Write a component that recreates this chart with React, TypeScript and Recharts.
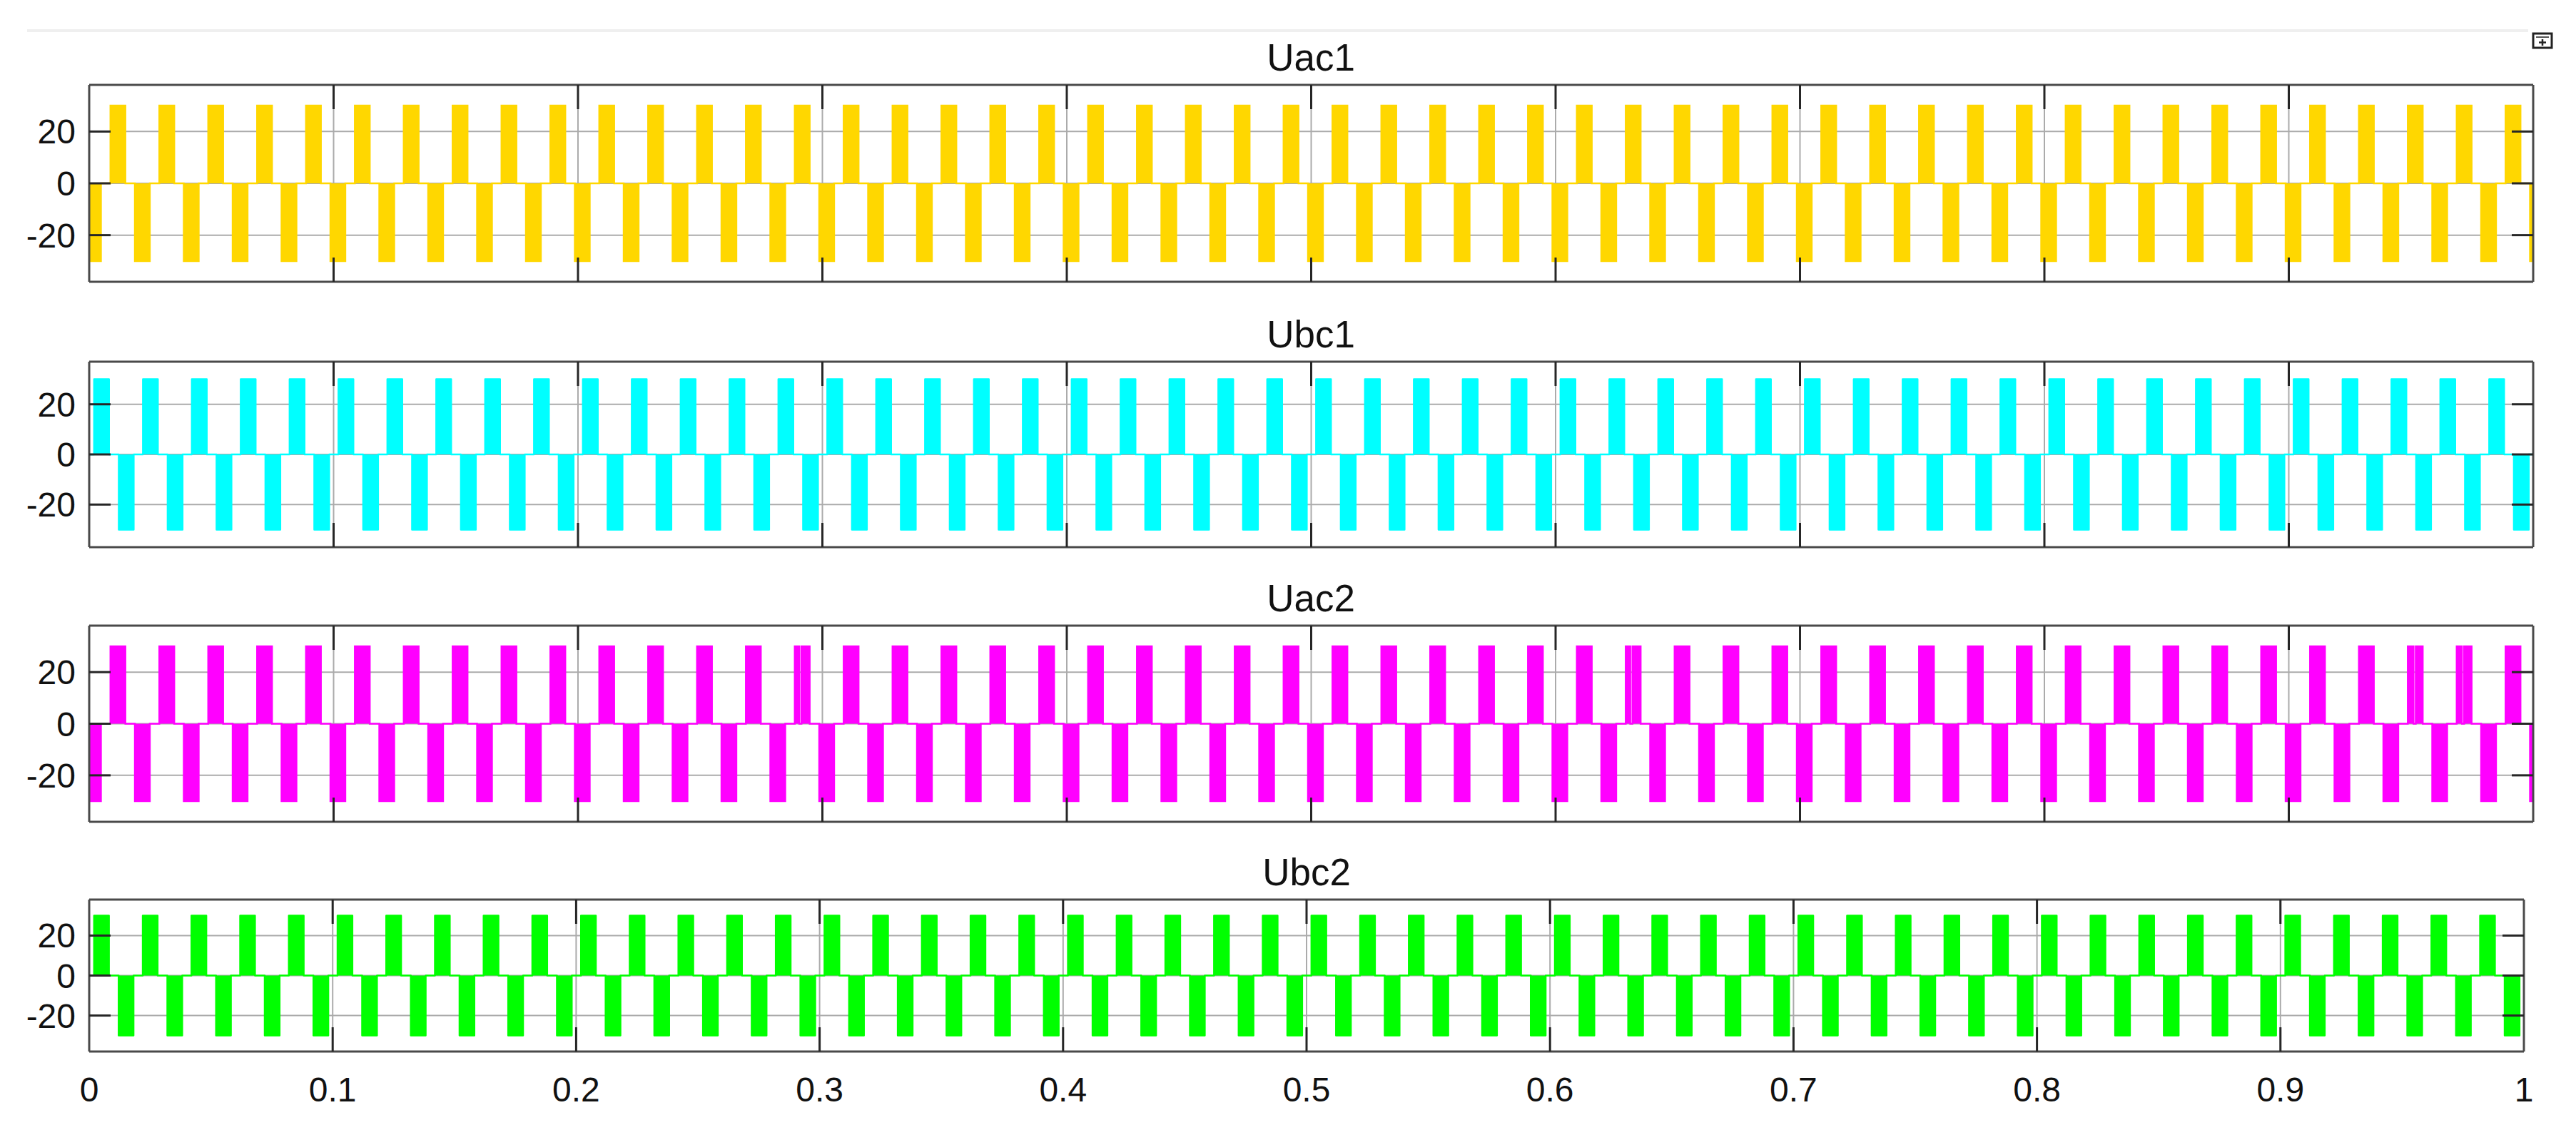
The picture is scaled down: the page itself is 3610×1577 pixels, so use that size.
import React from "react";
import { AreaChart, Area, XAxis, YAxis, CartesianGrid } from "recharts";

// time axis (s) and voltage axis (V)
const xTicks = [0, 0.1, 0.2, 0.3, 0.4, 0.5, 0.6, 0.7, 0.8, 0.9, 1];
const yTicks = [-20, 0, 20];
const amplitude = 30;
const pulseWidth = 0.0061;

// pulse start times (s)
const uac1Pos = [
  0.0087, 0.0287, 0.0487, 0.0687, 0.0887,
  0.1087, 0.1287, 0.1487, 0.1687, 0.1887,
  0.2087, 0.2287, 0.2487, 0.2687, 0.2887,
  0.3087, 0.3287, 0.3487, 0.3687, 0.3887,
  0.4087, 0.4287, 0.4487, 0.4687, 0.4887,
  0.5087, 0.5287, 0.5487, 0.5687, 0.5887,
  0.6087, 0.6287, 0.6487, 0.6687, 0.6887,
  0.7087, 0.7287, 0.7487, 0.7687, 0.7887,
  0.8087, 0.8287, 0.8487, 0.8687, 0.8887,
  0.9087, 0.9287, 0.9487, 0.9687, 0.9887,
];
const uac1Neg = [
  -0.0013, 0.0187, 0.0387, 0.0587, 0.0787,
  0.0987, 0.1187, 0.1387, 0.1587, 0.1787,
  0.1987, 0.2187, 0.2387, 0.2587, 0.2787,
  0.2987, 0.3187, 0.3387, 0.3587, 0.3787,
  0.3987, 0.4187, 0.4387, 0.4587, 0.4787,
  0.4987, 0.5187, 0.5387, 0.5587, 0.5787,
  0.5987, 0.6187, 0.6387, 0.6587, 0.6787,
  0.6987, 0.7187, 0.7387, 0.7587, 0.7787,
  0.7987, 0.8187, 0.8387, 0.8587, 0.8787,
  0.8987, 0.9187, 0.9387, 0.9587, 0.9787,
  0.9987,
];

const ubc1Pos = [
  0.002, 0.022, 0.042, 0.062, 0.082,
  0.102, 0.122, 0.142, 0.162, 0.182,
  0.202, 0.222, 0.242, 0.262, 0.282,
  0.302, 0.322, 0.342, 0.362, 0.382,
  0.402, 0.422, 0.442, 0.462, 0.482,
  0.502, 0.522, 0.542, 0.562, 0.582,
  0.602, 0.622, 0.642, 0.662, 0.682,
  0.702, 0.722, 0.742, 0.762, 0.782,
  0.802, 0.822, 0.842, 0.862, 0.882,
  0.902, 0.922, 0.942, 0.962, 0.982,
];
const ubc1Neg = [
  0.0121, 0.0321, 0.0521, 0.0721, 0.0921,
  0.1121, 0.1321, 0.1521, 0.1721, 0.1921,
  0.2121, 0.2321, 0.2521, 0.2721, 0.2921,
  0.3121, 0.3321, 0.3521, 0.3721, 0.3921,
  0.4121, 0.4321, 0.4521, 0.4721, 0.4921,
  0.5121, 0.5321, 0.5521, 0.5721, 0.5921,
  0.6121, 0.6321, 0.6521, 0.6721, 0.6921,
  0.7121, 0.7321, 0.7521, 0.7721, 0.7921,
  0.8121, 0.8321, 0.8521, 0.8721, 0.8921,
  0.9121, 0.9321, 0.9521, 0.9721, 0.9921,
];

const uac2Pos = [
  0.0087, 0.0287, 0.0487, 0.0687, 0.0887,
  0.1087, 0.1287, 0.1487, 0.1687, 0.1887,
  0.2087, 0.2287, 0.2487, 0.2687, 0.2887,
  0.3087, 0.3287, 0.3487, 0.3687, 0.3887,
  0.4087, 0.4287, 0.4487, 0.4687, 0.4887,
  0.5087, 0.5287, 0.5487, 0.5687, 0.5887,
  0.6087, 0.6287, 0.6487, 0.6687, 0.6887,
  0.7087, 0.7287, 0.7487, 0.7687, 0.7887,
  0.8087, 0.8287, 0.8487, 0.8687, 0.8887,
  0.9087, 0.9287, 0.9487, 0.9687, 0.9887,
];
const uac2Neg = [
  -0.0013, 0.0187, 0.0387, 0.0587, 0.0787,
  0.0987, 0.1187, 0.1387, 0.1587, 0.1787,
  0.1987, 0.2187, 0.2387, 0.2587, 0.2787,
  0.2987, 0.3187, 0.3387, 0.3587, 0.3787,
  0.3987, 0.4187, 0.4387, 0.4587, 0.4787,
  0.4987, 0.5187, 0.5387, 0.5587, 0.5787,
  0.5987, 0.6187, 0.6387, 0.6587, 0.6787,
  0.6987, 0.7187, 0.7387, 0.7587, 0.7787,
  0.7987, 0.8187, 0.8387, 0.8587, 0.8787,
  0.8987, 0.9187, 0.9387, 0.9587, 0.9787,
  0.9987,
];
// short dropouts seen inside a few Uac2 pulses
const uac2Notches = [0.291, 0.631, 0.9515, 0.9713];

const ubc2Pos = [
  0.002, 0.022, 0.042, 0.062, 0.082,
  0.102, 0.122, 0.142, 0.162, 0.182,
  0.202, 0.222, 0.242, 0.262, 0.282,
  0.302, 0.322, 0.342, 0.362, 0.382,
  0.402, 0.422, 0.442, 0.462, 0.482,
  0.502, 0.522, 0.542, 0.562, 0.582,
  0.602, 0.622, 0.642, 0.662, 0.682,
  0.702, 0.722, 0.742, 0.762, 0.782,
  0.802, 0.822, 0.842, 0.862, 0.882,
  0.902, 0.922, 0.942, 0.962, 0.982,
];
const ubc2Neg = [
  0.0121, 0.0321, 0.0521, 0.0721, 0.0921,
  0.1121, 0.1321, 0.1521, 0.1721, 0.1921,
  0.2121, 0.2321, 0.2521, 0.2721, 0.2921,
  0.3121, 0.3321, 0.3521, 0.3721, 0.3921,
  0.4121, 0.4321, 0.4521, 0.4721, 0.4921,
  0.5121, 0.5321, 0.5521, 0.5721, 0.5921,
  0.6121, 0.6321, 0.6521, 0.6721, 0.6921,
  0.7121, 0.7321, 0.7521, 0.7721, 0.7921,
  0.8121, 0.8321, 0.8521, 0.8721, 0.8921,
  0.9121, 0.9321, 0.9521, 0.9721, 0.9921,
];

type Pt = { t: number; v: number };

// turn pulse start lists into a step trace for the Area
function buildWave(pos: number[], neg: number[], notches: number[] = []): Pt[] {
  const gap = 0.0009;
  const pulses: { s: number; e: number; v: number }[] = [];
  const add = (s: number, v: number) => {
    const e = s + pulseWidth;
    const cut = notches.find((n) => n > s && n < e);
    if (cut === undefined) {
      pulses.push({ s, e, v });
    } else {
      pulses.push({ s, e: cut - gap / 2, v });
      pulses.push({ s: cut + gap / 2, e, v });
    }
  };
  pos.forEach((s) => add(s, amplitude));
  neg.forEach((s) => add(s, -amplitude));
  pulses.sort((a, b) => a.s - b.s);

  const pts: Pt[] = [];
  if (pulses[0].s > 0) pts.push({ t: 0, v: 0 });
  pulses.forEach(({ s, e, v }) => {
    pts.push({ t: s, v: 0 }, { t: s, v }, { t: e, v }, { t: e, v: 0 });
  });
  if (pulses[pulses.length - 1].e < 1) pts.push({ t: 1, v: 0 });
  return pts;
}

const W = 3610;
const H = 1577;
const FONT = "'Liberation Sans', Arial, Helvetica, sans-serif";
const BOX = "#4a4a4a";
const TICK = "#262626";
const TICK_X = 34;
const TICK_Y = 30;

// end ticks sit on the box edges, so only inner ones get a mark
const isInner = (v: number) => v > 0 && v < 1;

// inward tick marks (matlab style), labels drawn outside
const BottomTick = ({ x, y, payload, label }: any) => (
  <g>
    {isInner(payload.value) && (
      <line x1={x} y1={y} x2={x} y2={y - TICK_X} stroke={TICK} strokeWidth={3} />
    )}
    {label && (
      <text x={x} y={y + 70} textAnchor="middle" fontSize={48} fill="#111" fontFamily={FONT}>
        {payload.value}
      </text>
    )}
  </g>
);

const TopTick = ({ x, y, payload }: any) =>
  isInner(payload.value) ? (
    <line x1={x} y1={y} x2={x} y2={y + TICK_X} stroke={TICK} strokeWidth={3} />
  ) : (
    <g />
  );

const LeftTick = ({ x, y, payload }: any) => (
  <g>
    <line x1={x} y1={y} x2={x + TICK_Y} y2={y} stroke={TICK} strokeWidth={3} />
    <text x={x - 19} y={y + 17} textAnchor="end" fontSize={48} fill="#111" fontFamily={FONT}>
      {payload.value}
    </text>
  </g>
);

const RightTick = ({ x, y }: any) => (
  <line x1={x} y1={y} x2={x - TICK_Y} y2={y} stroke={TICK} strokeWidth={3} />
);

interface PanelProps {
  data: Pt[];
  color: string;
  top: number;
  bottom: number;
  right: number;
  domain: [number, number];
  showLabels?: boolean;
  round?: boolean;
}

const Panel = ({ data, color, top, bottom, right, domain, showLabels = false, round = false }: PanelProps) => {
  const padTop = 10;
  const axisH = showLabels ? 110 : 2;
  const height = padTop + (bottom - top) + axisH;
  const axisLine = { stroke: BOX, strokeWidth: 3 };
  return (
    <div style={{ position: "absolute", left: 0, top: top - padTop }}>
      <AreaChart
        width={W}
        height={height}
        data={data}
        margin={{ top: padTop - 2, right: W - right - 2, bottom: 0, left: 0 }}
      >
        <CartesianGrid xAxisId="b" yAxisId="l" stroke="#ababab" strokeWidth={2} />
        <Area
          xAxisId="b"
          yAxisId="l"
          dataKey="v"
          type="linear"
          baseValue={0}
          stroke={color}
          fill={color}
          fillOpacity={1}
          strokeWidth={2.5}
          strokeLinejoin={round ? "round" : "miter"}
          dot={false}
          activeDot={false}
          isAnimationActive={false}
        />
        <XAxis
          xAxisId="b"
          dataKey="t"
          type="number"
          domain={[0, 1]}
          ticks={xTicks}
          interval={0}
          allowDataOverflow
          height={axisH}
          tickSize={0}
          tickMargin={0}
          tickLine={false}
          tick={(p: any) => <BottomTick {...p} label={showLabels} />}
          axisLine={axisLine}
        />
        <XAxis
          xAxisId="t"
          dataKey="t"
          orientation="top"
          type="number"
          domain={[0, 1]}
          ticks={xTicks}
          interval={0}
          allowDataOverflow
          height={2}
          tickSize={0}
          tickMargin={0}
          tickLine={false}
          tick={TopTick}
          axisLine={axisLine}
        />
        <YAxis
          yAxisId="l"
          type="number"
          domain={domain}
          ticks={yTicks}
          interval={0}
          allowDataOverflow
          width={125}
          tickSize={0}
          tickMargin={0}
          tickLine={false}
          tick={LeftTick}
          axisLine={axisLine}
        />
        <YAxis
          yAxisId="r"
          orientation="right"
          type="number"
          domain={domain}
          ticks={yTicks}
          interval={0}
          allowDataOverflow
          width={2}
          tickSize={0}
          tickMargin={0}
          tickLine={false}
          tick={RightTick}
          axisLine={axisLine}
        />
      </AreaChart>
    </div>
  );
};

const titles = [
  { text: "Uac1", x: 1837, y: 99 },
  { text: "Ubc1", x: 1837, y: 487 },
  { text: "Uac2", x: 1837, y: 857 },
  { text: "Ubc2", x: 1831, y: 1241 },
];

export default function App() {
  return (
    <div
      style={{
        position: "absolute",
        left: 0,
        top: 0,
        width: W,
        height: H,
        background: "#fff",
        fontFamily: FONT,
        overflow: "hidden",
      }}
    >
      <Panel data={buildWave(uac1Pos, uac1Neg)} color="#FFD700" top={119} bottom={395} right={3550} domain={[-38, 38]} />
      <Panel data={buildWave(ubc1Pos, ubc1Neg)} color="#00FFFF" top={507} bottom={767} right={3550} domain={[-37, 37]} round />
      <Panel data={buildWave(uac2Pos, uac2Neg, uac2Notches)} color="#FF00FF" top={877} bottom={1152} right={3550} domain={[-38, 38]} />
      <Panel data={buildWave(ubc2Pos, ubc2Neg)} color="#00FF00" top={1261} bottom={1474} right={3537} domain={[-38, 38]} showLabels round />

      <svg width={W} height={H} style={{ position: "absolute", left: 0, top: 0, pointerEvents: "none" }}>
        <line x1={38} y1={43} x2={3543} y2={43} stroke="#efefef" strokeWidth={4} />
        <rect x={3550} y={47} width={26} height={20} fill="#fff" stroke="#222" strokeWidth={3} />
        <line x1={3554} y1={52} x2={3572} y2={52} stroke="#555" strokeWidth={2} />
        <path d="M3563 55 L3563 64 M3558 59.5 L3568 59.5" stroke="#222" strokeWidth={2.5} />
        {titles.map((t) => (
          <text key={t.text} x={t.x} y={t.y} textAnchor="middle" fontSize={53} fill="#111" fontFamily={FONT}>
            {t.text}
          </text>
        ))}
      </svg>
    </div>
  );
}
